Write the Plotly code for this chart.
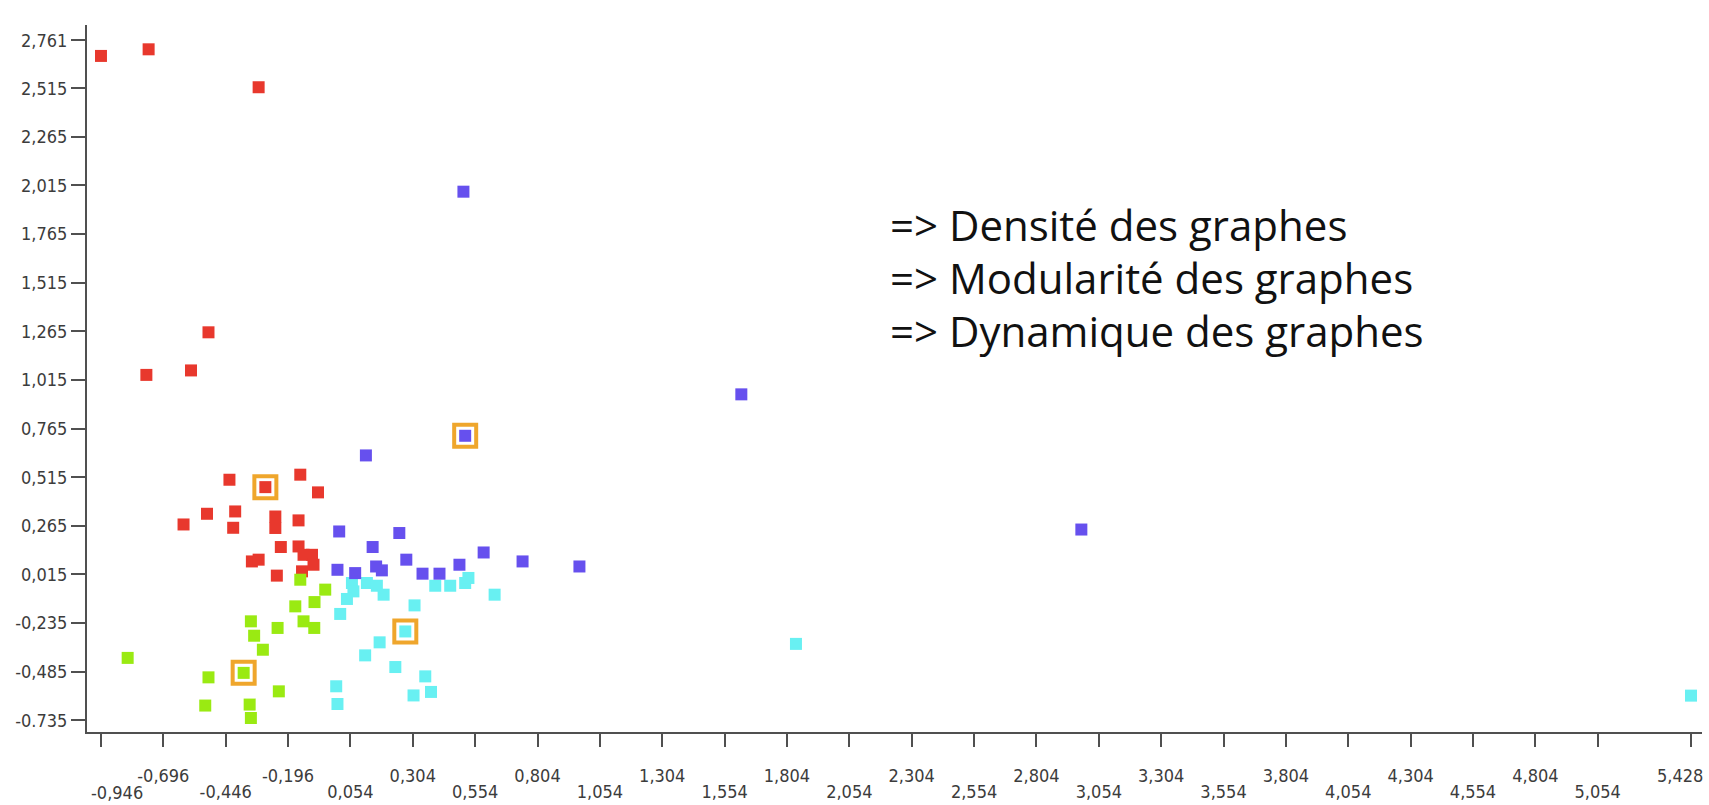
import plotly.graph_objects as go

# ---------------- data ----------------
red_x = [-0.946, -0.755, -0.314, -0.515, -0.764, -0.585, -0.431, -0.287, -0.147, -0.076,
         -0.521, -0.408, -0.615, -0.416, -0.247, -0.247, -0.154, -0.225, -0.154, -0.134,
         -0.100, -0.094, -0.140, -0.341, -0.314, -0.241]
red_y = [2.681, 2.715, 2.520, 1.260, 1.041, 1.064, 0.502, 0.464, 0.528, 0.437,
         0.327, 0.339, 0.272, 0.255, 0.313, 0.254, 0.293, 0.156, 0.159, 0.116,
         0.116, 0.065, 0.031, 0.082, 0.091, 0.009]

blue_x = [0.507, 1.621, 2.984, 0.514, 0.116, 0.009, 0.250, 0.143, 0.278, 0.588,
          0.744, 0.972, 0.002, 0.073, 0.157, 0.180, 0.343, 0.411, 0.491]
blue_y = [1.983, 0.941, 0.246, 0.728, 0.627, 0.236, 0.228, 0.156, 0.091, 0.128,
          0.082, 0.056, 0.039, 0.022, 0.056, 0.036, 0.019, 0.019, 0.065]

cyan_x = [0.060, 0.120, 0.160, 0.066, 0.040, 0.187, 0.013, 0.311, 0.394, 0.454,
          0.514, 0.527, 0.632, 0.274, 0.171, 0.113, 0.234, 0.354, -0.003, 0.377,
          0.307, 0.002, 1.840, 5.428]
cyan_y = [-0.029, -0.029, -0.043, -0.072, -0.111, -0.089, -0.188, -0.144, -0.043, -0.043,
          -0.029, -0.003, -0.089, -0.278, -0.334, -0.401, -0.461, -0.509, -0.560, -0.589,
          -0.607, -0.651, -0.342, -0.608]

green_x = [-0.839, -0.515, -0.374, -0.528, -0.350, -0.345, -0.233, -0.345, -0.332, -0.297,
           -0.238, -0.167, -0.134, -0.091, -0.090, -0.047, -0.147]
green_y = [-0.414, -0.514, -0.491, -0.659, -0.654, -0.723, -0.586, -0.226, -0.300, -0.372,
           -0.260, -0.149, -0.226, -0.260, -0.127, -0.063, -0.012]

highlight_x = [-0.287, 0.514, 0.274, -0.374]
highlight_y = [0.464, 0.728, -0.278, -0.491]

x_ticks = [-0.946, -0.696, -0.446, -0.196, 0.054, 0.304, 0.554, 0.804, 1.054, 1.304,
           1.554, 1.804, 2.054, 2.304, 2.554, 2.804, 3.054, 3.304, 3.554, 3.804,
           4.054, 4.304, 4.554, 4.804, 5.054, 5.428]
x_labels = ["-0,946", "-0,696", "-0,446", "-0,196", "0,054", "0,304", "0,554", "0,804",
            "1,054", "1,304", "1,554", "1,804", "2,054", "2,304", "2,554", "2,804",
            "3,054", "3,304", "3,554", "3,804", "4,054", "4,304", "4,554", "4,804",
            "5,054", "5,428"]

y_ticks = [-0.735, -0.485, -0.235, 0.015, 0.265, 0.515, 0.765, 1.015, 1.265, 1.515,
           1.765, 2.015, 2.265, 2.515, 2.761]
y_labels = ["-0.735", "-0,485", "-0,235", "0,015", "0,265", "0,515", "0,765", "1,015",
            "1,265", "1,515", "1,765", "2,015", "2,265", "2,515", "2,761"]

notes = ["=> Densité des graphes", "=> Modularité des graphes", "=> Dynamique des graphes"]

# ---------------- figure ----------------
TICK_FONT = dict(family="Liberation Sans Narrow, DejaVu Sans Condensed, DejaVu Sans",
                 size=18, color="#3c3c3c")
AXIS_COL = "#505050"

fig = go.Figure()

def add_series(xs, ys, color):
    fig.add_trace(go.Scatter(x=xs, y=ys, mode="markers", showlegend=False,
                             hoverinfo="x+y",
                             marker=dict(symbol="square", size=12, color=color,
                                         line=dict(width=0))))

add_series(red_x, red_y, "#e8382d")
add_series(green_x, green_y, "#9aea12")
add_series(cyan_x, cyan_y, "#68f0f2")
add_series(blue_x, blue_y, "#6650ee")

fig.add_trace(go.Scatter(x=highlight_x, y=highlight_y, mode="markers", showlegend=False,
                         hoverinfo="skip",
                         marker=dict(symbol="square-open", size=22, color="#efa62c",
                                     line=dict(width=4, color="#efa62c"))))

# staggered x labels: odd indices on the upper row, even indices on the lower row.
# The first and last labels are nudged sideways in the original, so they are
# placed as labels anchored at their tick values with a small pixel shift.
n = len(x_labels)
upper_txt = [t if (i % 2 == 1 and i != n - 1) else "" for i, t in enumerate(x_labels)]
lower_vals = [v for i, v in enumerate(x_ticks) if i % 2 == 0 and i != 0]
lower_txt = [t for i, t in enumerate(x_labels) if i % 2 == 0 and i != 0]

x_range = [-1.002, 5.472]
y_range = [-0.795, 2.840]

fig.update_layout(
    width=1709, height=805,
    margin=dict(l=87, r=7, t=25, b=73, autoexpand=False),
    paper_bgcolor="white", plot_bgcolor="white",
    xaxis=dict(range=x_range, tickmode="array",
               tickvals=x_ticks, ticktext=upper_txt, automargin=False,
               ticks="outside", ticklen=13, tickwidth=2, tickcolor=AXIS_COL,
               showline=True, linewidth=2, linecolor=AXIS_COL,
               showgrid=False, zeroline=False, tickfont=TICK_FONT,
               ticklabelstandoff=13, ticklabeloverflow="allow"),
    xaxis2=dict(range=x_range, overlaying="x", side="bottom", anchor="y",
                tickmode="array", tickvals=lower_vals, ticktext=lower_txt,
                automargin=False,
                ticks="", showline=False, showgrid=False, zeroline=False,
                tickfont=TICK_FONT, ticklabelstandoff=47, ticklabeloverflow="allow"),
    yaxis=dict(range=y_range, tickmode="array", tickvals=y_ticks, ticktext=y_labels,
               automargin=False,
               ticks="outside", ticklen=14, tickwidth=2, tickcolor=AXIS_COL,
               showline=True, linewidth=2, linecolor=AXIS_COL,
               showgrid=False, zeroline=False, tickfont=TICK_FONT,
               ticklabelstandoff=0),
)

# invisible trace so that the lower-row axis is rendered
fig.add_trace(go.Scatter(x=[x_range[0]], y=[y_range[0]], xaxis="x2", yaxis="y",
                         mode="markers", marker=dict(opacity=0), showlegend=False,
                         hoverinfo="skip"))

# edge tick labels (first: lower row, nudged right; last: upper row, nudged left)
fig.add_annotation(text=x_labels[0], x=x_ticks[0], xref="x", y=-0.0855, yref="paper",
                   xanchor="center", yanchor="middle", xshift=16, showarrow=False,
                   font=TICK_FONT)
fig.add_annotation(text=x_labels[-1], x=x_ticks[-1], xref="x", y=-0.0614, yref="paper",
                   xanchor="center", yanchor="middle", xshift=-11, showarrow=False,
                   font=TICK_FONT)

note_y = [0.718, 0.643, 0.568]
for txt, yy in zip(notes, note_y):
    fig.add_annotation(text=txt, xref="paper", yref="paper", x=0.496, y=yy,
                       xanchor="left", yanchor="middle", showarrow=False,
                       font=dict(family="Open Sans, Lato, sans-serif", size=42,
                                 color="#111111"))

fig.write_html("out.html")
